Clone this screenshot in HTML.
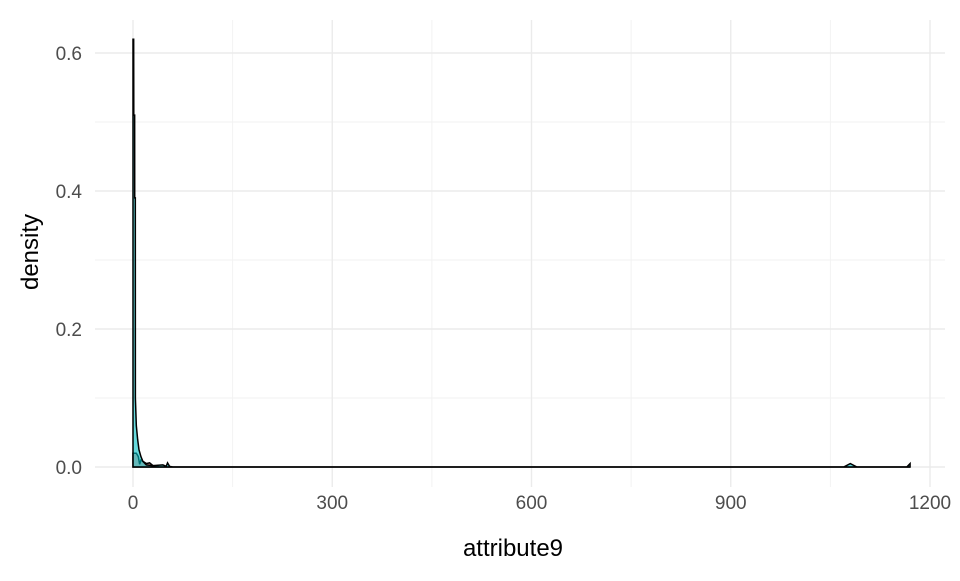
<!DOCTYPE html>
<html><head><meta charset="utf-8"><style>
body{margin:0;background:#fff;font-family:"Liberation Sans",sans-serif}
svg text{font-family:"Liberation Sans",sans-serif}
</style></head><body>
<svg id="c" width="960" height="576"></svg>
<script>
const xTicks=[0,300,600,900,1200];
const yTicks=[0,0.2,0.4,0.6];
const tealX=[0,1,1.2,2.5,2.6,3.5,3.6,5,7,9,12,15,20,30,45,50,52,55,60,1070,1080,1090,1165,1170];
const tealY=[0.62,0.62,0.51,0.51,0.39,0.39,0.1,0.06,0.04,0.025,0.015,0.008,0.003,0.002,0.003,0.001,0.006,0.001,0,0,0.005,0,0,0.005];
const salmonX=[0,5,8,10,12,20,25,30,40,1170];
const salmonY=[0.02,0.02,0.015,0.004,0.01,0.005,0.006,0.002,0,0];
const sx=v=>133+v*(930-133)/1200;
const sy=v=>467-v*(467-53)/0.6;
const NS='http://www.w3.org/2000/svg';
const svg=document.getElementById('c');
function mk(t,a,p){const e=document.createElementNS(NS,t);for(const k in a)e.setAttribute(k,a[k]);(p||svg).appendChild(e);return e;}
const g=mk('g',{});


for(let i=0;i<xTicks.length-1;i++){const m=(xTicks[i]+xTicks[i+1])/2;mk('line',{x1:sx(m),x2:sx(m),y1:20,y2:487,stroke:'#f2f2f2','stroke-width':1},g);}
for(let i=0;i<yTicks.length-1;i++){const m=(yTicks[i]+yTicks[i+1])/2;mk('line',{x1:95,x2:945,y1:sy(m),y2:sy(m),stroke:'#f2f2f2','stroke-width':1},g);}
xTicks.forEach(v=>{mk('line',{x1:sx(v),x2:sx(v),y1:20,y2:487,stroke:'#ebebeb','stroke-width':1.4},g);
const t=mk('text',{x:sx(v),y:509,'text-anchor':'middle','font-size':19,fill:'#4d4d4d'});t.textContent=v;

});
yTicks.forEach(v=>{mk('line',{x1:95,x2:945,y1:sy(v),y2:sy(v),stroke:'#ebebeb','stroke-width':1.4},g);
const t=mk('text',{x:82,y:sy(v)+7,'text-anchor':'end','font-size':19,fill:'#4d4d4d'});t.textContent=v===0?'0.0':String(v);

});
function area(X,Y,fill,name){
let d='M'+sx(X[0])+','+sy(0);
X.forEach((x,i)=>{d+=' L'+sx(x)+','+sy(Y[i]);});
d+=' L'+sx(X[X.length-1])+','+sy(0)+' Z';
const p=mk('path',{d:d,fill:fill,'fill-opacity':0.6,stroke:'#000','stroke-width':1.5,'stroke-linejoin':'miter'});

}
area(salmonX,salmonY,'#F8766D','density-group-1');
area(tealX,tealY,'#00BFC4','density-group-2');
const xl=mk('text',{x:513,y:556,'text-anchor':'middle','font-size':24,fill:'#000'});xl.textContent='attribute9';


const yl=mk('text',{x:0,y:0,transform:'translate(38,252) rotate(-90)','text-anchor':'middle','font-size':24,fill:'#000'});yl.textContent='density';


</script>
</body></html>
